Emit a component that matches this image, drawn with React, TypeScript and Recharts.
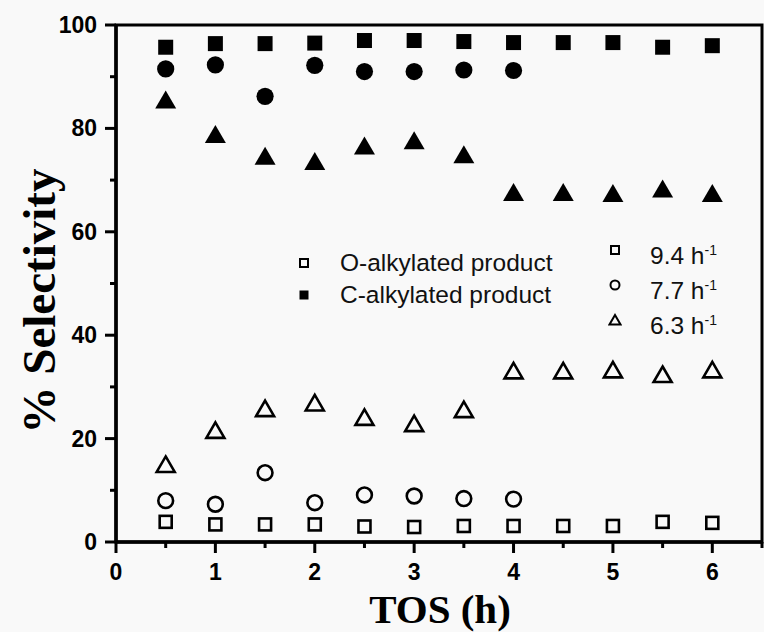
import { ScatterChart, Scatter, XAxis, YAxis, ReferenceArea } from 'recharts'

// TOS (h) sampling points
const tos = [0.5, 1, 1.5, 2, 2.5, 3, 3.5, 4, 4.5, 5, 5.5, 6]

// O-alkylated product (open symbols)
const o94 = [3.9, 3.4, 3.4, 3.4, 3.0, 2.9, 3.1, 3.1, 3.1, 3.1, 3.9, 3.7]
const o77 = [8.0, 7.3, 13.4, 7.6, 9.1, 8.9, 8.4, 8.3]
const o63 = [14.9, 21.5, 25.7, 26.8, 24.0, 22.8, 25.5, 33.0, 33.0, 33.2, 32.3, 33.2]

// C-alkylated product (filled symbols)
const c94 = [95.7, 96.4, 96.4, 96.5, 97.0, 97.0, 96.8, 96.6, 96.6, 96.6, 95.7, 96.0]
const c77 = [91.5, 92.3, 86.2, 92.2, 91.0, 91.0, 91.3, 91.2]
const c63 = [85.4, 78.7, 74.5, 73.5, 76.5, 77.5, 74.8, 67.5, 67.5, 67.3, 68.2, 67.3]

const xTicks = [0, 0.5, 1, 1.5, 2, 2.5, 3, 3.5, 4, 4.5, 5, 5.5, 6, 6.5]
const yTicks = [0, 10, 20, 30, 40, 50, 60, 70, 80, 90, 100]
const xMax = 6.5
const yMax = 100

const toPoints = (vals: number[]) => vals.map((v, i) => ({ x: tos[i], y: v }))

const SANS = '"Liberation Sans", Arial, sans-serif'
const SERIF = '"Liberation Serif", "Times New Roman", serif'

type ShapeProps = { cx?: number; cy?: number }

const squareShape = (filled: boolean) => ({ cx = 0, cy = 0 }: ShapeProps) =>
  filled ? (
    <rect x={cx - 7.5} y={cy - 7.5} width={15} height={15} fill="#000" />
  ) : (
    <rect x={cx - 6} y={cy - 6} width={12} height={12} fill="none" stroke="#000" strokeWidth={2.6} />
  )

const circleShape = (filled: boolean) => ({ cx = 0, cy = 0 }: ShapeProps) =>
  filled ? (
    <circle cx={cx} cy={cy} r={8.6} fill="#000" />
  ) : (
    <circle cx={cx} cy={cy} r={7.4} fill="none" stroke="#000" strokeWidth={2.6} />
  )

const triangleShape = (filled: boolean) => ({ cx = 0, cy = 0 }: ShapeProps) =>
  filled ? (
    <path d={`M${cx},${cy - 10} L${cx + 10.5},${cy + 8} L${cx - 10.5},${cy + 8} Z`} fill="#000" />
  ) : (
    <path
      d={`M${cx},${cy - 8.5} L${cx + 9},${cy + 7} L${cx - 9},${cy + 7} Z`}
      fill="none"
      stroke="#000"
      strokeWidth={2.6}
      strokeLinejoin="miter"
    />
  )

function XTick(props: any) {
  const { x, y, payload } = props
  const v = payload.value as number
  const major = Number.isInteger(v)
  return (
    <g>
      <line x1={x} x2={x} y1={y} y2={y + (major ? 11 : 6)} stroke="#000" strokeWidth={3} />
      {major && v <= 6 && (
        <text x={x} y={y + 38} textAnchor="middle" fontFamily={SANS} fontWeight="bold" fontSize={23} fill="#000">
          {v}
        </text>
      )}
    </g>
  )
}

function YTick(props: any) {
  const { x, y, payload } = props
  const v = payload.value as number
  const major = v % 20 === 0
  return (
    <g>
      <line x1={x} x2={x - (major ? 11 : 6)} y1={y} y2={y} stroke="#000" strokeWidth={3} />
      {major && (
        <text x={x - 19} y={y + 8} textAnchor="end" fontFamily={SANS} fontWeight="bold" fontSize={23} fill="#000">
          {v}
        </text>
      )}
    </g>
  )
}

function LegendIcon({ kind }: { kind: 'sq' | 'sqf' | 'ci' | 'tr' }) {
  return (
    <svg width={14} height={14} style={{ display: 'block' }}>
      {kind === 'sq' && <rect x={3} y={3} width={8} height={8} fill="none" stroke="#000" strokeWidth={2} />}
      {kind === 'sqf' && <rect x={2.5} y={2.5} width={9} height={9} fill="#000" />}
      {kind === 'ci' && <circle cx={7} cy={7} r={4.5} fill="none" stroke="#000" strokeWidth={2} />}
      {kind === 'tr' && <path d="M7,2 L12.5,11.5 L1.5,11.5 Z" fill="none" stroke="#000" strokeWidth={2} />}
    </svg>
  )
}

const legendText: React.CSSProperties = {
  position: 'absolute',
  fontFamily: SANS,
  fontSize: 24.5,
  lineHeight: '24px',
  color: '#111',
  whiteSpace: 'nowrap',
}

export default function App() {
  return (
    <div style={{ position: 'absolute', left: 0, top: 0, width: 764, height: 632, background: '#f9f9f9', overflow: 'hidden' }}>
      <ScatterChart width={764} height={632} margin={{ top: 25, right: 2, bottom: 0, left: 0 }}>
        <XAxis
          type="number"
          dataKey="x"
          domain={[0, xMax]}
          ticks={xTicks}
          interval={0}
          height={90}
          tickLine={false}
          tickSize={0}
          tickMargin={0}
          tick={<XTick />}
          axisLine={{ stroke: '#000', strokeWidth: 3.5 }}
          allowDataOverflow
        />
        <YAxis
          type="number"
          dataKey="y"
          domain={[0, yMax]}
          ticks={yTicks}
          interval={0}
          width={116}
          tickLine={false}
          tickSize={0}
          tickMargin={0}
          tick={<YTick />}
          axisLine={{ stroke: '#000', strokeWidth: 3.5 }}
        />
        {/* plot box outline (top and right edges) */}
        <ReferenceArea
          x1={0}
          x2={xMax}
          y1={0}
          y2={yMax}
          fill="none"
          fillOpacity={0}
          stroke="#000"
          strokeWidth={3}
          ifOverflow="visible"
        />
        <Scatter data={toPoints(o94)} shape={squareShape(false)} isAnimationActive={false} />
        <Scatter data={toPoints(o77)} shape={circleShape(false)} isAnimationActive={false} />
        <Scatter data={toPoints(o63)} shape={triangleShape(false)} isAnimationActive={false} />
        <Scatter data={toPoints(c94)} shape={squareShape(true)} isAnimationActive={false} />
        <Scatter data={toPoints(c77)} shape={circleShape(true)} isAnimationActive={false} />
        <Scatter data={toPoints(c63)} shape={triangleShape(true)} isAnimationActive={false} />
      </ScatterChart>

      {/* product legend */}
      <div style={{ position: 'absolute', left: 297, top: 256 }}><LegendIcon kind="sq" /></div>
      <div style={{ ...legendText, left: 340, top: 251 }}>O-alkylated product</div>
      <div style={{ position: 'absolute', left: 297, top: 288 }}><LegendIcon kind="sqf" /></div>
      <div style={{ ...legendText, left: 340, top: 283 }}>C-alkylated product</div>

      {/* space velocity legend */}
      <div style={{ position: 'absolute', left: 608, top: 243 }}><LegendIcon kind="sq" /></div>
      <div style={{ ...legendText, left: 650, top: 238 }}>9.4 h<sup style={{ fontSize: 14 }}>-1</sup></div>
      <div style={{ position: 'absolute', left: 608, top: 278 }}><LegendIcon kind="ci" /></div>
      <div style={{ ...legendText, left: 650, top: 273 }}>7.7 h<sup style={{ fontSize: 14 }}>-1</sup></div>
      <div style={{ position: 'absolute', left: 608, top: 313 }}><LegendIcon kind="tr" /></div>
      <div style={{ ...legendText, left: 650, top: 308 }}>6.3 h<sup style={{ fontSize: 14 }}>-1</sup></div>

      {/* axis titles */}
      <div
        style={{
          position: 'absolute',
          left: 39,
          top: 301,
          transform: 'translate(-50%, -50%) rotate(-90deg)',
          fontFamily: SERIF,
          fontWeight: 'bold',
          fontSize: 47,
          whiteSpace: 'nowrap',
          lineHeight: 1,
        }}
      >
        % Selectivity
      </div>
      <div
        style={{
          position: 'absolute',
          left: 440,
          top: 609,
          transform: 'translate(-50%, -50%)',
          fontFamily: SERIF,
          fontWeight: 'bold',
          fontSize: 41,
          whiteSpace: 'nowrap',
          lineHeight: 1,
        }}
      >
        TOS (h)
      </div>
    </div>
  )
}
